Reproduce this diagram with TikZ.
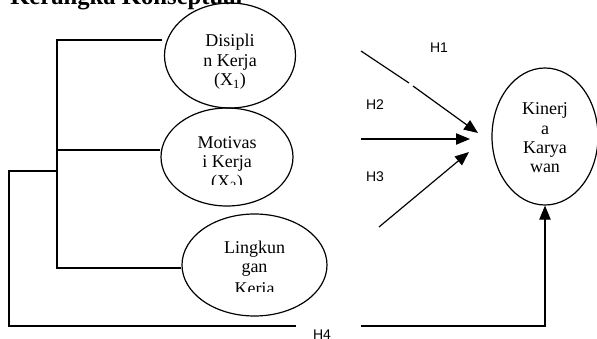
\documentclass[tikz,border=0pt]{standalone}
\usepackage{fontspec}
\setmainfont{Liberation Serif}
\newfontfamily\labfont{Liberation Sans}
\usetikzlibrary{shapes.geometric,arrows.meta}
\begin{document}
\begin{tikzpicture}[x=0.75pt,y=-0.75pt,
  oval/.style={draw,ellipse,line width=0.9pt,inner sep=0pt},
  ovaltext/.style={font=\fontsize{13.5}{14.5}\selectfont,inner sep=0pt,anchor=center},
  hlab/.style={font=\labfont\fontsize{10.5}{12}\selectfont,inner sep=0pt},
  conn/.style={line width=0.9pt},
  arr/.style={line width=0.9pt,-{Triangle[length=10.5pt,width=8.5pt]}}]
\useasboundingbox (0,0) rectangle (597,339);
\fill[white] (0,0) rectangle (597,339);
% title (clipped at top)
\node[anchor=base west,inner sep=0pt,font=\bfseries\fontsize{18.5}{20}\selectfont] (title) at (10,5) {Kerangka Konseptual};
% ovals
\node[oval,minimum width=98.25pt,minimum height=78.75pt] (e1) at (230,55.5) {};
\node[oval,minimum width=99pt,minimum height=73.5pt] (e2) at (227,157) {};
\node[oval,minimum width=108.75pt,minimum height=76.5pt] (e3) at (254.5,265) {};
\node[oval,minimum width=79.5pt,minimum height=102.75pt] (e4) at (545,136.5) {};
% oval texts
\node[ovaltext] (t1a) at (230,42) {Disipli};
\node[ovaltext] (t1b) at (230,62) {n Kerja};
\node[ovaltext] (t1c) at (230,81) {(X\textsubscript{1})};
\node[ovaltext] (t2a) at (227,143) {Motivas};
\node[ovaltext] (t2b) at (227,163) {i Kerja};
\begin{scope}
  \clip (180,170) rectangle (280,184.5);
  \node[ovaltext] (t2c) at (227,183) {(X\textsubscript{2})};
\end{scope}
\node[ovaltext] (t3a) at (254.5,249) {Lingkun};
\node[ovaltext] (t3b) at (254.5,270) {gan};
\begin{scope}
  \clip (200,275) rectangle (310,291);
  \node[ovaltext] (t3c) at (254.5,290) {Kerja};
\end{scope}
\node[ovaltext] (t4a) at (545,110) {Kinerj};
\node[ovaltext] (t4b) at (545,130) {a};
\node[ovaltext] (t4c) at (545,150) {Karya};
\node[ovaltext] (t4d) at (545,168) {wan};
% bracket
\coordinate (b1) at (57,40);
\coordinate (b1e) at (162,40);
\coordinate (b2) at (57,150);
\coordinate (b3) at (57,268);
\coordinate (bm) at (57,171);
\draw[conn] (b1e) -- (b1) -- (b3) -- (e3.west |- b3);
\draw[conn] (b2) -- (e2.west |- b2);
% H4 path
\coordinate (c1) at (9,171);
\coordinate (c2) at (9,326);
\coordinate (c3) at (296,326);
\coordinate (c4) at (361,326);
\coordinate (c5) at (545,326);
\draw[conn] (bm) -- (c1) -- (c2) -- (c3);
\draw[arr] (c4) -- (c5) -- (e4.south);
\node[hlab] (h4) at (322,335) {H4};
% arrows H1-H3
\coordinate (a1s) at (361,51);
\coordinate (a1m) at (409,83);
\coordinate (a1n) at (413,86);
\coordinate (a1t) at (478,133);
\draw[conn] (a1s) -- (a1m);
\draw[arr] (a1n) -- (a1t);
\coordinate (a2s) at (361,139);
\coordinate (a2t) at (470,139);
\draw[arr] (a2s) -- (a2t);
\coordinate (a3s) at (379,227);
\coordinate (a3t) at (469,152);
\draw[arr] (a3s) -- (a3t);
\node[hlab] (h1) at (439,48) {H1};
\node[hlab] (h2) at (375,105) {H2};
\node[hlab] (h3) at (375,177) {H3};
\end{tikzpicture}
\end{document}
